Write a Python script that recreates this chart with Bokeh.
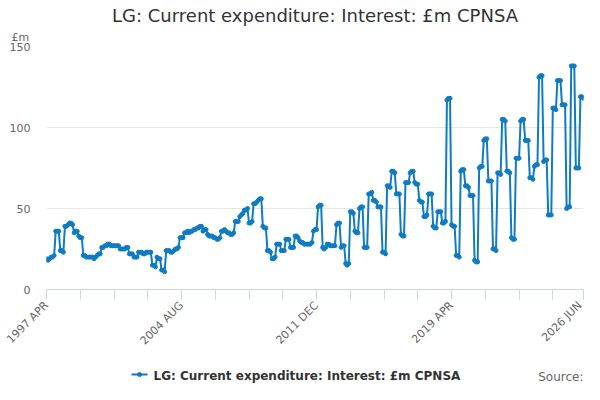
import math
import pandas as pd
from bokeh.plotting import figure
from bokeh.layouts import column
from bokeh.models import (FixedTicker, Range1d, Title, Label, ColumnDataSource)
from bokeh.core.properties import value
from bokeh.embed import file_html
from bokeh.resources import INLINE

# ---- data -------------------------------------------------------------
start_month = "1997-04"
end_month = "2026-06"
months = [p.strftime("%Y %b").upper() for p in pd.period_range(start_month, end_month, freq="M")]

values = [
    19, 18, 19,  20, 20, 21,  36, 36, 36,  24, 24, 23,  39, 39, 40,  41, 41, 40,
    35, 36, 36,  33, 32, 32,  21, 21, 20,  20, 20, 20,  20, 19, 20,  21, 22, 22,
    26, 26, 27,  27, 28, 28,  27, 27, 27,  27, 27, 27,  25, 25, 25,  25, 26, 26,
    22, 22, 22,  20, 20, 20,  23, 23, 23,  22, 22, 23,  23, 23, 23,  15, 15, 14,
    20, 19, 19,  12, 12, 11,  24, 24, 24,  23, 23, 24,  25, 25, 26,  32, 32, 32,
    35, 35, 36,  35, 36, 36,  37, 37, 38,  38, 39, 39,  36, 37, 37,  34, 33, 33,
    33, 32, 32,  31, 31, 32,  36, 36, 37,  36, 35, 35,  34, 34, 35,  42, 42, 42,
    45, 46, 47,  49, 49, 50,  41, 41, 42,  53, 53, 54,  55, 56, 56,  39, 38, 38,
    24, 24, 23,  19, 19, 20,  28, 28, 28,  24, 24, 24,  31, 31, 31,  26, 26, 26,
    33, 33, 32,  30, 29, 29,  28, 28, 28,  28, 28, 29,  36, 37, 37,  51, 52, 52,
    26, 25, 26,  28, 28, 27,  27, 27, 27,  40, 41, 41,  26, 27, 27,  16, 15, 16,
    48, 48, 47,  36, 35, 35,  50, 51, 51,  26, 26, 26,  59, 59, 60,  55, 55, 54,
    51, 51, 51,  23, 23, 22,  64, 64, 63,  73, 73, 72,  59, 59, 59,  34, 33, 33,
    66, 66, 66,  72, 73, 73,  66, 65, 65,  55, 54, 54,  45, 45, 46,  59, 59, 59,
    39, 38, 38,  48, 48, 48,  41, 41, 42,  117, 118, 118,  40, 39, 39,  21, 21, 20,
    73, 74, 74,  64, 64, 63,  58, 58, 58,  18, 17, 17,  75, 76, 76,  92, 93, 93,
    67, 67, 67,  25, 25, 24,  72, 72, 71,  105, 105, 104,  73, 73, 72,  32, 31, 31,
    81, 81, 81,  104, 105, 105,  92, 92, 92,  69, 69, 68,  76, 77, 77,  131, 132, 132,
    79, 80, 80,  46, 46, 46,  112, 112, 111,  129, 129, 129,  114, 114, 114,  50, 51, 51,
    138, 138, 138,  75, 75, 75,  119, 119, 118,
]

tick_labels = ["1997 APR", "2004 AUG", "2011 DEC", "2019 APR", "2026 JUN"]
y_ticks = [0, 50, 100, 150]

title_text = "LG: Current expenditure: Interest: £m CPNSA"
series_name = "LG: Current expenditure: Interest: £m CPNSA"
unit_text = "£m"
source_text = "Source:"

# ---- build ------------------------------------------------------------
idx = list(range(len(values)))
src = ColumnDataSource(dict(x=idx, y=values, month=months))

FONT = "DejaVu Sans"
BLUE = "#0f7bc2"
W = 584
H_MAIN = 355
H_LEG = 29
FRAME_L, FRAME_R = 46, 583

p = figure(width=W, height=H_MAIN, output_backend="svg", toolbar_location=None,
           x_range=Range1d(0, len(values) - 1), y_range=Range1d(0, 150),
           min_border_left=FRAME_L, min_border_right=W - FRAME_R, min_border_top=46,
           min_border_bottom=64)
p.outline_line_color = None
p.background_fill_color = "white"
p.border_fill_color = "white"

p.title.text = title_text
p.title.align = "center"
p.title.offset = -14
p.title.text_font = FONT
p.title.text_font_size = "18px"
p.title.text_font_style = "normal"
p.title.text_color = "#333333"
p.title.standoff = 0

p.add_layout(Title(text=unit_text, align="left", offset=-35, standoff=6,
                   text_font=FONT, text_font_size="11px", text_font_style="normal",
                   text_color="#666666"), "above")

ln = p.line("x", "y", source=src, line_color=BLUE, line_width=2)
sc = p.scatter("x", "y", source=src, size=4, marker="circle",
               fill_color=BLUE, line_color=BLUE)

# x ticks: every 22 months plus the last month
label_pos = [months.index(t) for t in tick_labels]
tick_pos = list(range(0, len(values) - 1, 22)) + [len(values) - 1]
xa = p.xaxis[0]
xa.ticker = FixedTicker(ticks=tick_pos, minor_ticks=[])
xa.major_label_overrides = {i: (months[i] if i in label_pos else "") for i in tick_pos}
xa.major_label_orientation = math.pi / 4
xa.axis_line_color = "#ccd6eb"
xa.major_tick_line_color = "#ccd6eb"
xa.major_tick_out = 10
xa.major_tick_in = 0
xa.minor_tick_line_color = None
xa.major_label_text_font = FONT
xa.major_label_text_font_size = "11px"
xa.major_label_text_color = "#666666"
xa.major_label_standoff = 4

ya = p.yaxis[0]
ya.ticker = FixedTicker(ticks=y_ticks, minor_ticks=[])
ya.axis_line_color = None
ya.major_tick_line_color = None
ya.minor_tick_line_color = None
ya.major_tick_out = 0
ya.major_tick_in = 0
ya.major_label_standoff = 16
ya.major_label_text_font = FONT
ya.major_label_text_font_size = "11px"
ya.major_label_text_color = "#666666"

p.xgrid.grid_line_color = None
p.ygrid.grid_line_color = "#e6e6e6"
p.ygrid.ticker = FixedTicker(ticks=y_ticks)

# ---- legend / source strip (pixel-space figure, frame aligned with p) ----
q = figure(width=W, height=H_LEG, output_backend="svg", toolbar_location=None,
           x_range=Range1d(FRAME_L, FRAME_R), y_range=Range1d(0, H_LEG),
           x_axis_type=None, y_axis_type=None,
           min_border_left=FRAME_L, min_border_right=W - FRAME_R, min_border_top=0,
           min_border_bottom=0)
q.outline_line_color = None
q.xgrid.visible = False
q.ygrid.visible = False

key_x0, key_x1, key_y = 131, 147, 10
q.line([key_x0, key_x1], [key_y, key_y], line_color=BLUE, line_width=2)
q.scatter([(key_x0 + key_x1) / 2], [key_y], size=4, marker="circle",
          fill_color=BLUE, line_color=BLUE)
q.text([153], [9], text=[series_name], text_font=value(FONT),
       text_font_size="12px", text_font_style="bold", text_color="#333333",
       text_align="left", text_baseline="alphabetic")
q.add_layout(Label(x=FRAME_R, y=1, text=source_text, text_font=FONT,
                   text_font_size="12px", text_color="#666666",
                   text_align="right", text_baseline="bottom"))

layout = column(p, q, spacing=0)
open("out.html", "w").write(file_html(layout, INLINE))
